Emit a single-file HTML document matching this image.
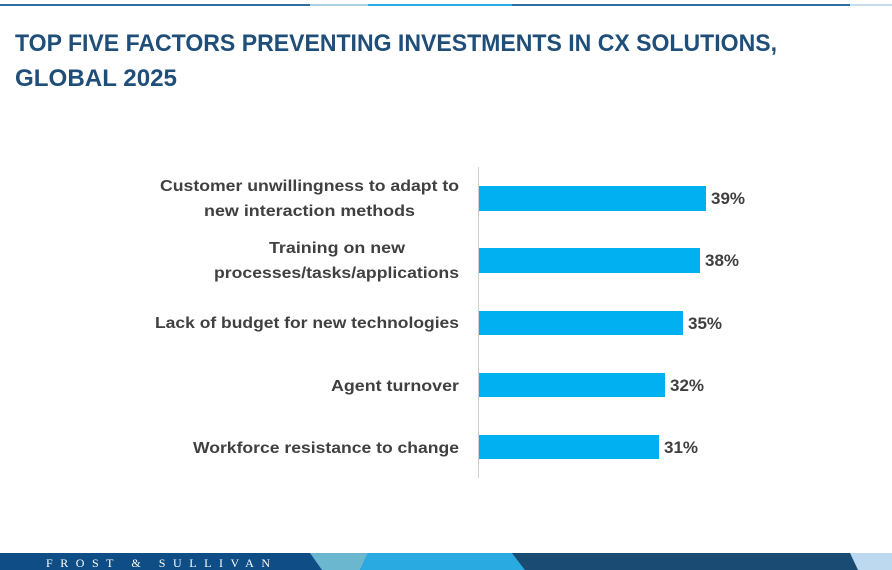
<!DOCTYPE html>
<html><head><meta charset="utf-8"><style>
html,body{margin:0;padding:0;background:#fff;}
svg{display:block;}
text{font-family:"Liberation Sans",sans-serif;font-weight:bold;}
</style></head><body>
<svg width="892" height="570" viewBox="0 0 892 570" xmlns="http://www.w3.org/2000/svg">
<rect x="0" y="4" width="310" height="2" fill="#2e6f9e"/>
<rect x="310" y="4" width="58" height="2" fill="#a9d3e3"/>
<rect x="368" y="4" width="144" height="2" fill="#29abe2"/>
<rect x="512" y="4" width="338" height="2" fill="#2e6f9e"/>
<rect x="850" y="4" width="42" height="2" fill="#c5deef"/>
<g fill="#1f4e79">
<text x="15" y="51" font-size="24" textLength="762" lengthAdjust="spacingAndGlyphs">TOP FIVE FACTORS PREVENTING INVESTMENTS IN CX SOLUTIONS,</text>
<text x="15" y="86" font-size="24" textLength="162" lengthAdjust="spacingAndGlyphs">GLOBAL 2025</text>
</g>
<line x1="478.5" y1="167" x2="478.5" y2="478" stroke="#d0d0d0" stroke-width="1"/>
<g fill="#00b0f0">
<rect x="479" y="186" width="227" height="25"/>
<rect x="479" y="248" width="221" height="25"/>
<rect x="479" y="311" width="204" height="24"/>
<rect x="479" y="373" width="186" height="24"/>
<rect x="479" y="435" width="180" height="24"/>
</g>
<g fill="#404040" font-size="16" text-anchor="end">
<text x="459" y="191" textLength="299" lengthAdjust="spacingAndGlyphs">Customer unwillingness to adapt to</text>
<text x="415" y="216" textLength="211" lengthAdjust="spacingAndGlyphs">new interaction methods</text>
<text x="405" y="253" textLength="136" lengthAdjust="spacingAndGlyphs">Training on new</text>
<text x="459" y="278" textLength="245" lengthAdjust="spacingAndGlyphs">processes/tasks/applications</text>
<text x="459" y="328" textLength="304" lengthAdjust="spacingAndGlyphs">Lack of budget for new technologies</text>
<text x="459" y="391" textLength="128" lengthAdjust="spacingAndGlyphs">Agent turnover</text>
<text x="459" y="453" textLength="266" lengthAdjust="spacingAndGlyphs">Workforce resistance to change</text>
</g>
<g fill="#404040" font-size="17">
<text x="711" y="204">39%</text>
<text x="705" y="266">38%</text>
<text x="688" y="329">35%</text>
<text x="670" y="391">32%</text>
<text x="664" y="453">31%</text>
</g>
<rect x="0" y="553" width="892" height="17" fill="#0e4d85"/>
<polygon points="310,553 368,553 360,570 322,570" fill="#6bb7cf"/>
<polygon points="368,553 512,553 525,570 360,570" fill="#29abe2"/>
<polygon points="512,553 850,553 858,570 525,570" fill="#1a4b73"/>
<polygon points="850,553 892,553 892,570 858,570" fill="#bcd9ef"/>
<text x="46" y="567" font-size="12" fill="#fff" style="font-family:'Liberation Serif',serif;font-weight:normal" textLength="224" lengthAdjust="spacing">FROST &amp; SULLIVAN</text>
</svg>
</body></html>
